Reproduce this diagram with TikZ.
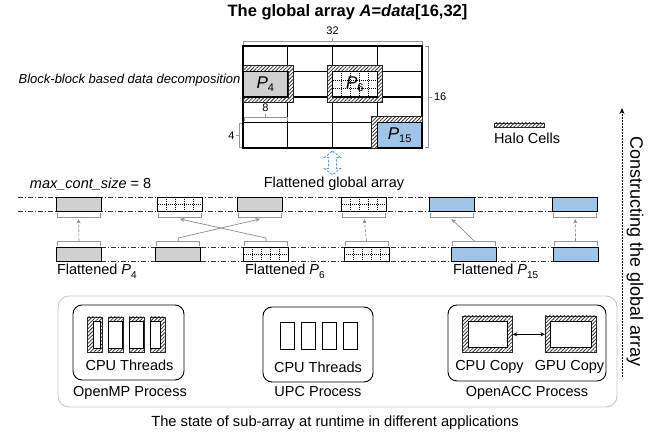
\documentclass[tikz,border=0pt]{standalone}
\usepackage{fontspec}
\setmainfont{Liberation Sans}
\usetikzlibrary{patterns.meta,arrows.meta,calc}
\definecolor{pgray}{RGB}{208,208,208}
\definecolor{pblue}{RGB}{160,196,232}
\definecolor{abl}{RGB}{91,155,213}
\definecolor{brkc}{RGB}{150,150,150}
\definecolor{arrc}{RGB}{140,140,140}
\newcommand\plab[1]{{\fontsize{17}{17}\selectfont\itshape P}\raisebox{-0.55ex}{\fontsize{11}{11}\selectfont #1}}
\newcommand\flab[1]{Flattened \textit{P}\raisebox{-0.5ex}{\fontsize{10}{10}\selectfont #1}}
\begin{document}
\begin{tikzpicture}[x=1pt,y=-1pt,
  every node/.style={inner sep=0, outer sep=0},
  lab/.style={font=\fontsize{14.5}{17}\selectfont},
  sml/.style={font=\fontsize{11}{13}\selectfont},
  brk/.style={draw=brkc, line width=0.8},
  halo/.style={preaction={fill=white}, pattern={Lines[angle=45,distance=2.6pt,line width=0.8pt]}, pattern color=black!80, draw=black!85, line width=0.5, even odd rule},
  hatchbox/.style={draw=black!85, line width=0.5, preaction={fill=white}, pattern={Lines[angle=45,distance=2.6pt,line width=0.8pt]}, pattern color=black!80},
  inbox/.style={draw=black, line width=0.6, fill=white},
  dotl/.style={line width=0.6, dash pattern=on 0.8pt off 1.2pt},
  dgridA/.style={path picture={
     \foreach \k in {1,...,4}{\draw[dotl] ($(path picture bounding box.north west)!\k/5!(path picture bounding box.north east)$) -- ($(path picture bounding box.south west)!\k/5!(path picture bounding box.south east)$);}
     \draw[dotl] (path picture bounding box.west) -- (path picture bounding box.east);}},
  dgridB/.style={path picture={
     \foreach \k in {1,...,4}{\draw[dotl] ($(path picture bounding box.north west)!\k/5!(path picture bounding box.north east)$) -- ($(path picture bounding box.south west)!\k/5!(path picture bounding box.south east)$);}
     \foreach \k in {1,2}{\draw[dotl] ($(path picture bounding box.north west)!\k/3!(path picture bounding box.south west)$) -- ($(path picture bounding box.north east)!\k/3!(path picture bounding box.south east)$);}}},
  blk/.style={draw=black, line width=0.9, minimum width=45, minimum height=14},
  gblk/.style={blk, fill=pgray},
  bblk/.style={blk, fill=pblue},
  dblk/.style={blk, fill=white, dgridA},
  dashdot/.style={line width=0.6, draw=black!80, dash pattern=on 5pt off 2pt on 1pt off 2pt},
  arr/.style={draw=arrc, line width=0.7, -{Stealth[length=4.5pt,width=4pt]}},
  cell/.style={draw=black, line width=1.1, minimum width=44.75, minimum height=25.5},
  pbox/.style={draw=black, line width=0.9, rounded corners=9}
]
\useasboundingbox (0,0) rectangle (670,435);

% title
\node[anchor=base, font=\fontsize{16.5}{20}\selectfont\bfseries] (title) at (347.5,16.7) {The global array \textit{A}=\textit{data}[16,32]};

% grid
\draw[line width=1.1] (243,46) rectangle (422,148);
\foreach \x in {287.75,332.5,377.25} \draw[line width=1.1] (\x,46) -- (\x,148);
\foreach \y in {71.5,97,122.5} \draw[line width=1.1] (243,\y) -- (422,\y);

% halos
\path[halo] (243,65.5) rectangle (293.5,102.5) (243,71.5) rectangle (287.75,97);
\path[halo] (327,65.5) rectangle (382.5,102.5) (332.5,71.5) rectangle (377.25,97);
\path[halo] (371.5,116.5) rectangle (422,148) (377.25,122.5) rectangle (422,148);

% partition cells
\node[cell, fill=pgray] (p4) at (265.375,84.25) {\plab{4}};
\node[cell, fill=white, dgridB] (p6) at (354.875,84.25) {\plab{6}};
\node[cell, fill=pblue] (p15) at (399.625,135.25) {\plab{15}};

% dimension brackets
\draw[brk] (243,45) -- (243,41) -- (422,41) -- (422,45);
\draw[brk] (332.5,41) -- (332.5,38);
\node[sml, anchor=base] (d32) at (332.5,34.5) {32};
\draw[brk] (425,46.5) -- (428.5,46.5) -- (428.5,147.5) -- (425,147.5);
\draw[brk] (428.5,97) -- (432,97);
\node[sml, anchor=west] (d16) at (434,97) {16};
\draw[brk] (244,121) -- (244,117.5) -- (287,117.5) -- (287,121);
\draw[brk] (265.4,117.5) -- (265.4,114.5);
\node[sml, anchor=base] (d8) at (265.4,111.8) {8};
\draw[brk] (242,123.5) -- (239,123.5) -- (239,147.5) -- (242,147.5);
\draw[brk] (239,135.5) -- (236,135.5);
\node[sml, anchor=east] (d4) at (234.5,135.5) {4};

\node[anchor=base east, font=\fontsize{13}{15}\selectfont\itshape] (bbd) at (240.5,83.3) {Block-block based data decomposition};

% halo legend
\path[hatchbox] (494,123) rectangle (544,127.5);
\node[lab, anchor=base west] (halo) at (494,144) {Halo Cells};

% blue dashed double arrow
\draw[abl, line width=0.9, dash pattern=on 2.5pt off 1.5pt]
  (332.5,151) -- (340.5,157.5) -- (336.5,157.5) -- (336.5,168.5) -- (340.5,168.5) -- (332.5,175)
  -- (324.5,168.5) -- (328.5,168.5) -- (328.5,157.5) -- (324.5,157.5) -- cycle;

\node[lab, anchor=base west] (mcs) at (30,188.3) {\textit{max\_cont\_size} = 8};
\node[lab, anchor=base] (fga) at (334,187.3) {Flattened global array};

% dash-dot rows
\draw[dashdot] (18,197) -- (598,197);
\draw[dashdot] (18,211) -- (598,211);
\draw[dashdot] (101,247) -- (598,247);
\draw[dashdot] (101,261) -- (598,261);

% flattened global array blocks
\node[gblk] (b1) at (78.5,204) {};
\node[dblk] (b2) at (180,204) {};
\node[gblk] (b3) at (260,204) {};
\node[dblk] (b4) at (364.2,204) {};
\node[bblk] (b5) at (451.5,204) {};
\node[bblk] (b6) at (575.2,204) {};
% flattened sub-array blocks
\node[gblk] (c1) at (79,254) {};
\node[gblk] (c2) at (178.3,254) {};
\node[dblk] (c3) at (266,254) {};
\node[dblk] (c4) at (366.5,254) {};
\node[bblk] (c5) at (474.3,254) {};
\node[bblk] (c6) at (575.5,254) {};

\foreach \n in {b1,b2,b3,b4,b5,b6}{
  \draw[brk] ($(\n.south west)+(1,2)$) -- ++(0,4) -- ($(\n.south east)+(-1,6)$) -- ++(0,-4);
  \coordinate (\n k) at ($(\n.south)+(0,8)$);
}
\foreach \n in {c1,c2,c3,c4,c5,c6}{
  \draw[brk] ($(\n.north west)+(1,-1)$) -- ++(0,-5) -- ($(\n.north east)+(-1,-6)$) -- ++(0,5);
  \coordinate (\n k) at ($(\n.north)+(0,-6)$);
}
\draw[arr, dash pattern=on 3pt off 1.5pt] (c1k) -- (b1k);
\draw[arr] (c2k) -- ++(0,-3) -- (b3k);
\draw[arr] (c3k) -- ++(0,-3) -- (b2k);
\draw[arr, dash pattern=on 3pt off 1.5pt] (c4k) -- (b4k);
\draw[arr] (c5k) -- (b5k);
\draw[arr, dash pattern=on 3pt off 1.5pt] (c6k) -- (b6k);

\node[lab, anchor=base west] (f4) at (57,275) {\flab{4}};
\node[lab, anchor=base west] (f6) at (245,275) {\flab{6}};
\node[lab, anchor=base west] (f15) at (453,275) {\flab{15}};

% constructing arrow
\coordinate (cs) at (622,377);
\coordinate (ce) at (622,108);
\draw[line width=0.7, dash pattern=on 2pt off 1pt, -{Stealth[length=6pt,width=5pt]}] (cs) -- (ce);
\node[font=\fontsize{18}{20}\selectfont, rotate=-90] (ctext) at (635,251.5) {Constructing the global array};

% runtime states
\node[draw=black!22, line width=0.9, rounded corners=11, minimum width=559, minimum height=111] (frame) at (337.5,351.5) {};
\node[pbox, minimum width=111, minimum height=75] (omp) at (128.5,342.5) {};
\node[pbox, minimum width=110, minimum height=75] (upc) at (318,344.5) {};
\node[pbox, minimum width=158, minimum height=76] (acc) at (527,343) {};

% OpenMP threads
\foreach \c/\l/\r in {94.5/93/100, 115.5/108.25/122.75, 136.5/129.25/143.75, 157.5/150.25/160}{
  \node[hatchbox, minimum width=14.5, minimum height=35] (t\c) at (\c,334.5) {};
  \draw[inbox] (\l,321) rectangle (\r,348);
}
\node[lab, anchor=base] (ompc) at (129.5,370.7) {CPU Threads};
\node[lab, anchor=base] (ompl) at (130,396.3) {OpenMP Process};

% UPC threads
\foreach \c in {287,308,329,350}{
  \node[inbox, minimum width=14, minimum height=26.5] (u\c) at (\c,336) {};
}
\node[lab, anchor=base] (upcc) at (318,372.7) {CPU Threads};
\node[lab, anchor=base] (upcl) at (318,396.8) {UPC Process};

% OpenACC copies
\node[hatchbox, minimum width=50, minimum height=36.7] (cpu) at (487.7,334.3) {};
\node[inbox, minimum width=39, minimum height=25.7] at (cpu) {};
\node[hatchbox, minimum width=51.7, minimum height=36.7] (gpu) at (570.8,334.3) {};
\node[inbox, minimum width=40.7, minimum height=25.7] at (gpu) {};
\draw[line width=0.7, {Stealth[length=4.5pt,width=4pt]}-{Stealth[length=4.5pt,width=4pt]}] (cpu.east) -- (gpu.west);
\node[lab, anchor=base] (cpul) at (489.5,370.7) {CPU Copy};
\node[lab, anchor=base] (gpul) at (569.5,370.7) {GPU Copy};
\node[lab, anchor=base] (accl) at (527,396.7) {OpenACC Process};

\node[font=\fontsize{14.7}{17}\selectfont, anchor=base] (cap) at (335,426.7) {The state of sub-array at runtime in different applications};
\end{tikzpicture}
\end{document}
